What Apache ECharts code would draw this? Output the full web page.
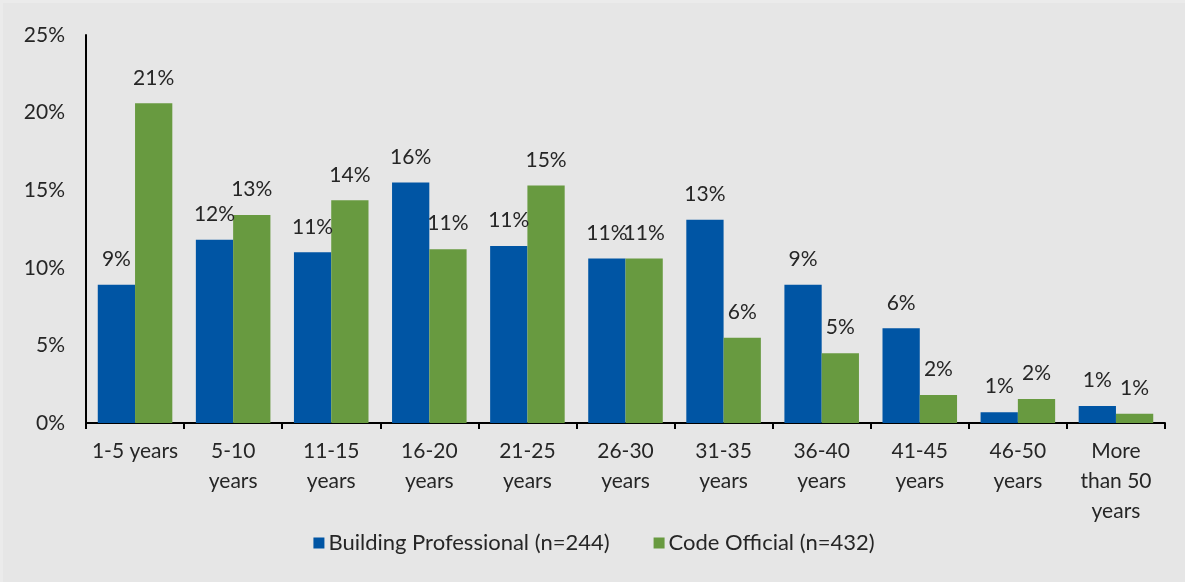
<!DOCTYPE html>
<html>
<head>
<meta charset="utf-8">
<script src="https://cdn.jsdelivr.net/npm/echarts@6/dist/echarts.min.js"></script>
<style>
  html, body { margin: 0; padding: 0; background: #ebebeb; }
  #chart { position: absolute; left: 3px; top: 3px; width: 1182px; height: 579px; background: #e6e6e6; }
</style>
</head>
<body>
<div id="chart"></div>
<script>
// Years of experience, share of respondents (%)
const categories = ['1-5 years', '5-10\nyears', '11-15\nyears', '16-20\nyears', '21-25\nyears',
  '26-30\nyears', '31-35\nyears', '36-40\nyears', '41-45\nyears', '46-50\nyears', 'More\nthan 50\nyears'];
const buildingProfessional = [8.9, 11.8, 11.0, 15.5, 11.4, 10.6, 13.1, 8.9, 6.1, 0.7, 1.1];
const codeOfficial = [20.6, 13.4, 14.35, 11.2, 15.3, 10.6, 5.5, 4.5, 1.8, 1.55, 0.6];
const seriesNames = ['Building Professional (n=244)', 'Code Official (n=432)'];

const FONT = 'Lato';
const TEXT = '#262626';
const SIZE = 21;

const chart = echarts.init(document.getElementById('chart'));
const pct = p => Math.round(p.value) + '%';

chart.setOption({
  animation: false,
  textStyle: { fontFamily: FONT, color: TEXT },
  grid: { left: 83, right: 20, top: 32, bottom: 159 },
  legend: {
    bottom: 23,
    left: 'center',
    itemWidth: 11,
    itemHeight: 11,
    itemGap: 44,
    icon: 'rect',
    textStyle: { fontFamily: FONT, fontSize: 22, color: TEXT, padding: [0, 0, 0, -1] }
  },
  xAxis: {
    type: 'category',
    data: categories,
    axisLine: { lineStyle: { color: '#000', width: 2 } },
    axisTick: { show: true, length: 6, lineStyle: { color: '#000', width: 2 } },
    axisLabel: { fontFamily: FONT, fontSize: SIZE, color: TEXT, lineHeight: 30, margin: 13, interval: 0 }
  },
  yAxis: {
    type: 'value',
    min: 0,
    max: 25,
    interval: 5,
    axisLine: { show: true, lineStyle: { color: '#000', width: 2 } },
    axisTick: { show: false },
    splitLine: { show: false },
    axisLabel: { formatter: '{value}%', fontFamily: FONT, fontSize: SIZE, color: TEXT, margin: 21 }
  },
  series: [
    {
      name: seriesNames[0],
      type: 'bar',
      data: buildingProfessional,
      barGap: '0%',
      barCategoryGap: '24%',
      itemStyle: { color: '#0055a4' },
      label: { show: true, position: 'top', distance: 15, formatter: pct, fontFamily: FONT, fontSize: SIZE, color: TEXT }
    },
    {
      name: seriesNames[1],
      type: 'bar',
      data: codeOfficial,
      itemStyle: { color: '#689a40' },
      label: { show: true, position: 'top', distance: 15, formatter: pct, fontFamily: FONT, fontSize: SIZE, color: TEXT }
    }
  ]
});
</script>
</body>
</html>
